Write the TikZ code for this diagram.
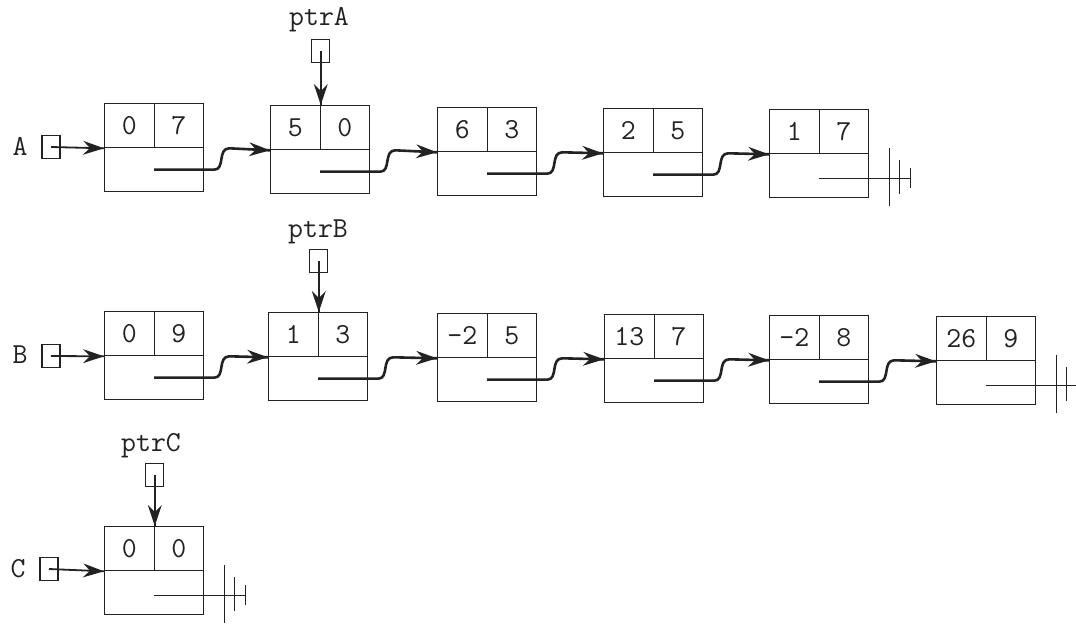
\documentclass[tikz,border=0pt]{standalone}
\usetikzlibrary{calc,decorations.markings}
\definecolor{ink}{HTML}{222222}
\newcommand\lstnode[5]{%
  \node[cell, anchor=north west] (#1l) at (#2,#3) {#4};
  \node[cell, anchor=north west] (#1r) at (#2+49.5,#3) {#5};
  \node[botcell, anchor=north west] (#1b) at (#2,#3+44) {};}
\newcommand\lstlink[2]{%
  \draw[inner] (#1b.center) -- ([xshift=10pt]#1b.east)
     .. controls ([xshift=21pt]#1b.east) and ([xshift=13pt]#1r.south east) .. ([xshift=25pt]#1r.south east)
     -- (#2l.south west);}
\newcommand\lstground[1]{%
  \draw[gline] ($(#1b.center)+(0,3)$) -- ($(#1b.east)+(41,3)$);
  \draw[gline] ($(#1r.south east)+(20,-6)$) -- ++(0,58);
  \draw[gline] ($(#1r.south east)+(30,6)$) -- ++(0,34);
  \draw[gline] ($(#1r.south east)+(41,14)$) -- ++(0,20);}
\tikzset{headtip/.style={postaction={decorate, decoration={markings,
  mark=at position 1 with {\fill[ink] (0pt,0pt) -- (-21pt,7pt) -- (-14pt,0pt) -- (-21pt,-7pt) -- cycle;}}}}}
\begin{document}
\begin{tikzpicture}[x=1pt,y=-1pt,
  txt/.style={font=\ttfamily\fontsize{29}{29}\selectfont, text=ink, inner sep=0pt},
  cell/.style={txt, draw=ink, line width=1.3pt, minimum width=49.5pt, minimum height=44pt},
  botcell/.style={draw=ink, line width=1.3pt, minimum width=99pt, minimum height=44pt, inner sep=0pt},
  sbox/.style={draw=ink, line width=1.2pt, minimum width=18pt, minimum height=23pt, inner sep=0pt},
  inner/.style={draw=ink, line width=2.6pt, headtip},
  arr/.style={draw=ink, line width=1.8pt, headtip},
  gline/.style={draw=ink, line width=1.1pt}]
\useasboundingbox (0,0) rectangle (1076,624);
% row A
\lstnode{a1}{104}{103}{0}{7}
\lstnode{a2}{270}{105}{5}{0}
\lstnode{a3}{437}{107}{6}{3}
\lstnode{a4}{603}{108}{2}{5}
\lstnode{a5}{769}{109}{1}{7}
\node[txt] (la) at (20,146) {A};
\node[sbox] (sa) at (51,147) {};
\draw[arr] (sa.center) -- (a1l.south west);
\lstlink{a1}{a2}
\lstlink{a2}{a3}
\lstlink{a3}{a4}
\lstlink{a4}{a5}
\lstground{a5}
\node[txt, anchor=base] (pa) at (319,25) {ptrA};
\node[sbox] (spa) at ($(a2l.north east)+(0,-54)$) {};
\draw[arr] (spa.center) -- (a2l.north east);
% row B
\lstnode{b1}{104}{311}{0}{9}
\lstnode{b2}{268}{312}{1}{3}
\lstnode{b3}{437}{313}{-2}{5}
\lstnode{b4}{604}{314}{13}{7}
\lstnode{b5}{769}{315}{-2}{8}
\lstnode{b6}{936}{316}{26}{9}
\node[txt] (lb) at (20,355) {B};
\node[sbox] (sb) at (51,356) {};
\draw[arr] (sb.center) -- (b1l.south west);
\lstlink{b1}{b2}
\lstlink{b2}{b3}
\lstlink{b3}{b4}
\lstlink{b4}{b5}
\lstlink{b5}{b6}
\lstground{b6}
\node[txt, anchor=base] (pb) at (318,237) {ptrB};
\node[sbox] (spb) at ($(b2l.north east)+(0,-51)$) {};
\draw[arr] (spb.center) -- (b2l.north east);
% row C
\lstnode{c1}{104}{526}{0}{0}
\node[txt] (lc) at (18,569) {C};
\node[sbox] (sc) at (49,569) {};
\draw[arr] (sc.center) -- (c1l.south west);
\lstground{c1}
\node[txt, anchor=base] (pc) at (151,451) {ptrC};
\node[sbox] (spc) at ($(c1l.north east)+(0,-51)$) {};
\draw[arr] (spc.center) -- (c1l.north east);
\end{tikzpicture}
\end{document}
